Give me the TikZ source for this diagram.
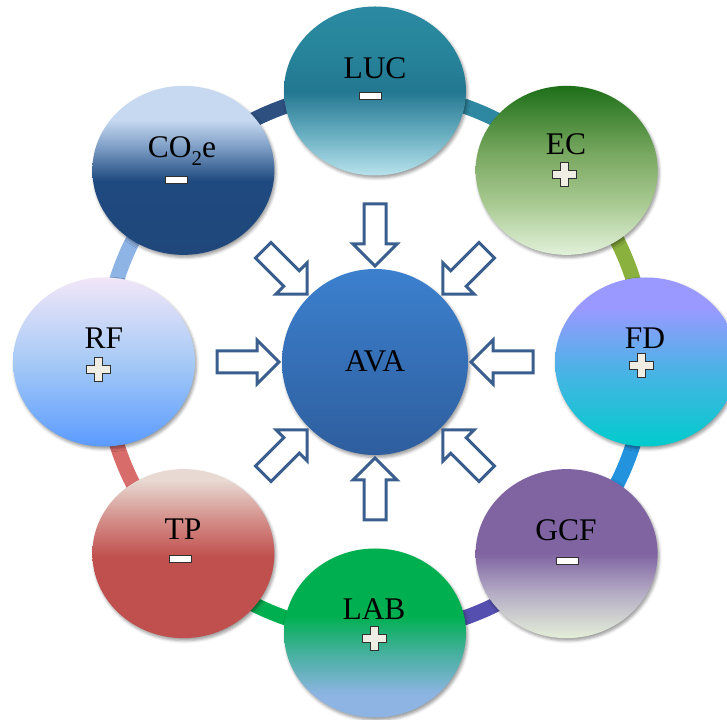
\documentclass[tikz,border=0pt]{standalone}
\usepackage{fontspec}
\setmainfont{Liberation Serif}
\usetikzlibrary{shapes.geometric,calc,shadows.blur}

% ring colours
\definecolor{ringA}{HTML}{2F88A2}
\definecolor{ringB}{HTML}{8AB13D}
\definecolor{ringC}{HTML}{2493DE}
\definecolor{ringD}{HTML}{5550B0}
\definecolor{ringE}{HTML}{00B050}
\definecolor{ringF}{HTML}{D86C6A}
\definecolor{ringG}{HTML}{8EB3E5}
\definecolor{ringH}{HTML}{2E5080}
\definecolor{arrowblue}{HTML}{3A5F8F}
\definecolor{signfill}{HTML}{F0EEE4}
\definecolor{signline}{HTML}{303030}

% LUC
\definecolor{lucA}{HTML}{2B8AA2}\definecolor{lucB}{HTML}{268399}
\definecolor{lucC}{HTML}{237791}\definecolor{lucD}{HTML}{6AAFC2}
\definecolor{lucE}{HTML}{B8E2EC}
\pgfdeclareverticalshading{shLUC}{100bp}{color(0bp)=(lucE); color(25bp)=(lucE); color(37bp)=(lucD); color(50bp)=(lucC); color(60bp)=(lucB); color(75bp)=(lucA); color(100bp)=(lucA)}
% EC
\definecolor{ecA}{HTML}{1D6F18}\definecolor{ecB}{HTML}{78A860}
\definecolor{ecC}{HTML}{A9CA92}\definecolor{ecD}{HTML}{E2F1DA}
\pgfdeclareverticalshading{shEC}{100bp}{color(0bp)=(ecD); color(25bp)=(ecD); color(40bp)=(ecC); color(55bp)=(ecB); color(75bp)=(ecA); color(100bp)=(ecA)}
% CO2e
\definecolor{coA}{HTML}{C6D9F0}\definecolor{coB}{HTML}{7F9FC6}
\definecolor{coC}{HTML}{1F4A80}\definecolor{coD}{HTML}{1F477B}
\pgfdeclareverticalshading{shCO}{100bp}{color(0bp)=(coD); color(25bp)=(coD); color(47bp)=(coC); color(57bp)=(coB); color(65bp)=(coA); color(75bp)=(coA); color(100bp)=(coA)}
% FD
\definecolor{fdA}{HTML}{9A99FF}\definecolor{fdB}{HTML}{4CB2E6}
\definecolor{fdC}{HTML}{00CCCC}
\pgfdeclareverticalshading{shFD}{100bp}{color(0bp)=(fdC); color(25bp)=(fdC); color(48bp)=(fdB); color(66bp)=(fdA); color(75bp)=(fdA); color(100bp)=(fdA)}
% RF
\definecolor{rfA}{HTML}{F2E6F8}\definecolor{rfB}{HTML}{A6CAF6}
\definecolor{rfC}{HTML}{5B9BFF}
\pgfdeclareverticalshading{shRF}{100bp}{color(0bp)=(rfC); color(25bp)=(rfC); color(50bp)=(rfB); color(75bp)=(rfA); color(100bp)=(rfA)}
% TP
\definecolor{tpA}{HTML}{E8DAD3}\definecolor{tpB}{HTML}{D48E89}
\definecolor{tpC}{HTML}{C0504D}
\pgfdeclareverticalshading{shTP}{100bp}{color(0bp)=(tpC); color(25bp)=(tpC); color(49bp)=(tpC); color(60bp)=(tpB); color(72bp)=(tpA); color(75bp)=(tpA); color(100bp)=(tpA)}
% LAB
\definecolor{labA}{HTML}{00B050}\definecolor{labB}{HTML}{40B098}
\definecolor{labC}{HTML}{8DB4E2}
\pgfdeclareverticalshading{shLAB}{100bp}{color(0bp)=(labC); color(25bp)=(labC); color(32bp)=(labC); color(45bp)=(labB); color(55bp)=(labA); color(75bp)=(labA); color(100bp)=(labA)}
% GCF
\definecolor{gcfA}{HTML}{8064A2}\definecolor{gcfB}{HTML}{B6AEC6}
\definecolor{gcfC}{HTML}{E4EFD8}
\pgfdeclareverticalshading{shGCF}{100bp}{color(0bp)=(gcfC); color(25bp)=(gcfC); color(38bp)=(gcfB); color(50bp)=(gcfA); color(75bp)=(gcfA); color(100bp)=(gcfA)}
% AVA
\definecolor{avaA}{HTML}{3C80CE}\definecolor{avaB}{HTML}{2E5E9E}
\pgfdeclareverticalshading{shAVA}{100bp}{color(0bp)=(avaB); color(25bp)=(avaB); color(75bp)=(avaA); color(100bp)=(avaA)}

\tikzset{
  ball/.style={ellipse, minimum width=182pt, minimum height=169pt, inner sep=0pt,
    blur shadow={shadow xshift=1.5pt, shadow yshift=-2.5pt, shadow blur radius=3pt, shadow opacity=40}},
  ring/.style={line width=15pt, line cap=butt},
  lbl/.style={anchor=base, inner sep=0pt, font=\fontsize{31.5}{36}\selectfont},
  minussign/.style={rectangle, minimum width=22pt, minimum height=7pt, inner sep=0pt,
    fill=white, draw=signline, line width=1pt},
  arrowline/.style={draw=arrowblue, fill=white, line width=3pt, line join=miter},
  inarrow/.pic={\path[arrowline] (158pt,-11pt) -- (118pt,-11pt) -- (118pt,-22pt) -- (96pt,0pt)
      -- (118pt,22pt) -- (118pt,11pt) -- (158pt,11pt) -- cycle;},
  plussign/.pic={\path[fill=signfill, draw=signline, line width=1pt]
      (-4pt,12pt) -- (4pt,12pt) -- (4pt,4pt) -- (12pt,4pt) -- (12pt,-4pt) -- (4pt,-4pt)
      -- (4pt,-12pt) -- (-4pt,-12pt) -- (-4pt,-4pt) -- (-12pt,-4pt) -- (-12pt,4pt)
      -- (-4pt,4pt) -- cycle;}
}

\begin{document}
\begin{tikzpicture}[x=1pt,y=1pt]
\useasboundingbox (0,0) rectangle (727,719);
\coordinate (c) at (375,357);
\coordinate (pLUC) at ($(c)+(90:271pt)$);
\coordinate (pEC)  at ($(c)+(45:271pt)$);
\coordinate (pFD)  at ($(c)+(0:271pt)$);
\coordinate (pGCF) at ($(c)+(-45:271pt)$);
\coordinate (pLAB) at ($(c)+(-90:271pt)$);
\coordinate (pTP)  at ($(c)+(-135:271pt)$);
\coordinate (pRF)  at ($(c)+(180:271pt)$);
\coordinate (pCO)  at ($(c)+(135:271pt)$);

% ring
\draw[ring, ringA] (pLUC) arc[start angle=90, end angle=45, radius=271pt];
\draw[ring, ringB] (pEC) arc[start angle=45, end angle=0, radius=271pt];
\draw[ring, ringC] (pFD) arc[start angle=0, end angle=-45, radius=271pt];
\draw[ring, ringD] (pGCF) arc[start angle=-45, end angle=-90, radius=271pt];
\draw[ring, ringE] (pLAB) arc[start angle=-90, end angle=-135, radius=271pt];
\draw[ring, ringF] (pTP) arc[start angle=-135, end angle=-180, radius=271pt];
\draw[ring, ringG] (pRF) arc[start angle=180, end angle=135, radius=271pt];
\draw[ring, ringH] (pCO) arc[start angle=135, end angle=90, radius=271pt];

% outer circles
\node[ball, shading=shLUC] (luc) at (pLUC) {};
\node[ball, shading=shEC]  (ec)  at (pEC) {};
\node[ball, shading=shFD]  (fd)  at (pFD) {};
\node[ball, shading=shGCF] (gcf) at (pGCF) {};
\node[ball, shading=shLAB] (lab) at (pLAB) {};
\node[ball, shading=shTP]  (tp)  at (pTP) {};
\node[ball, shading=shRF]  (rf)  at (pRF) {};
\node[ball, shading=shCO]  (co)  at (pCO) {};

% centre circle
\node[circle, minimum size=186pt, inner sep=0pt, shading=shAVA,
  blur shadow={shadow xshift=1.5pt, shadow yshift=-2.5pt, shadow blur radius=3pt, shadow opacity=40}] (ava) at (c) {};

% arrows
\foreach \a in {0,45,...,315}
  \pic[rotate=\a] at (ava.center) {inarrow};

% labels
\node[lbl] (tLUC) at (375,640) {LUC};
\node[lbl] (tEC)  at (566,564) {EC};
\node[lbl] (tCO)  at (182,561) {CO\raisebox{-8pt}{\fontsize{21}{21}\selectfont 2}e};
\node[lbl] (tFD)  at (645,370) {FD};
\node[lbl] (tRF)  at (104,370) {RF};
\node[lbl] (tTP)  at (183,179) {TP};
\node[lbl] (tLAB) at (374,99)  {LAB};
\node[lbl] (tGCF) at (566,178) {GCF};
\node[lbl] (tAVA) at (375,347) {AVA};

% signs
\node[minussign] (sLUC) at (370,622.5) {};
\pic at (564,544.5) {plussign};
\node[minussign] (sCO) at (176,538.5) {};
\pic at (641,353.5) {plussign};
\pic at (98,349) {plussign};
\node[minussign] (sTP) at (180,159.5) {};
\pic at (374,80) {plussign};
\node[minussign] (sGCF) at (567,158) {};
\end{tikzpicture}
\end{document}
